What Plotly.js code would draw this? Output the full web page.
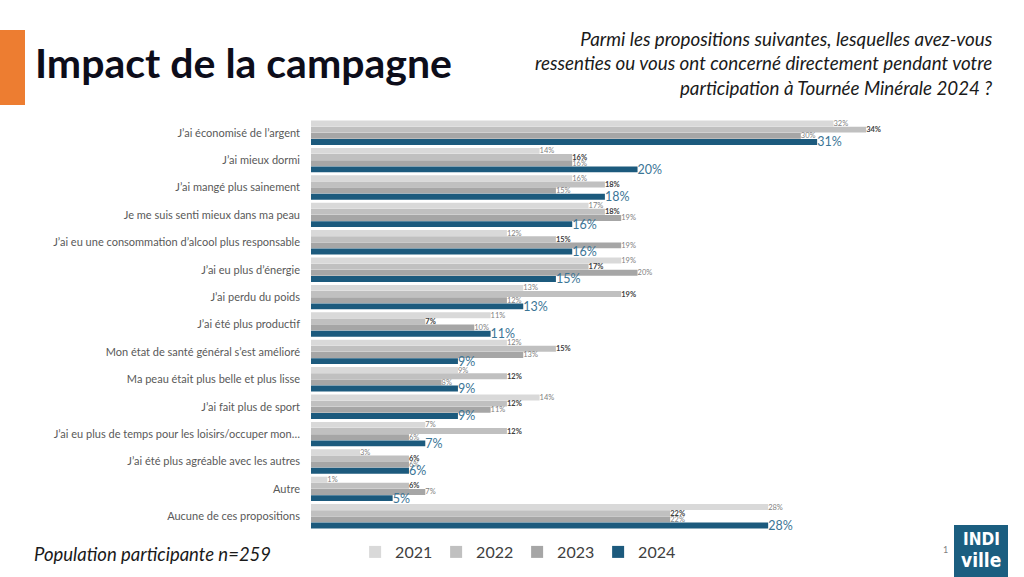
<!DOCTYPE html>
<html><head><meta charset="utf-8">
<script src="https://cdn.plot.ly/plotly-3.0.1.min.js"></script>
<style>html,body{margin:0;padding:0;background:#fff;}#chart{width:1024px;height:577px;}</style>
</head><body><div id="chart"></div>
<script>
const categories = [
  "J’ai économisé de l’argent",
  "J’ai mieux dormi",
  "J’ai mangé plus sainement",
  "Je me suis senti mieux dans ma peau",
  "J’ai eu une consommation d’alcool plus responsable",
  "J’ai eu plus d’énergie",
  "J’ai perdu du poids",
  "J’ai été plus productif",
  "Mon état de santé général s’est amélioré",
  "Ma peau était plus belle et plus lisse",
  "J’ai fait plus de sport",
  "J’ai eu plus de temps pour les loisirs/occuper mon…",
  "J’ai été plus agréable avec les autres",
  "Autre",
  "Aucune de ces propositions"
];
const years = ["2021", "2022", "2023", "2024"];
const v2021 = [32, 14, 16, 17, 12, 19, 13, 11, 12, 9, 14, 7, 3, 1, 28];
const v2022 = [34, 16, 18, 18, 15, 17, 19, 7, 15, 12, 12, 12, 6, 6, 22];
const v2023 = [30, 16, 15, 19, 19, 20, 12, 10, 13, 8, 11, 6, 6, 7, 22];
const v2024 = [31, 20, 18, 16, 16, 15, 13, 11, 9, 9, 9, 7, 6, 5, 28];

const L = 311, R = 920, T = 119, B = 530;
const W = R - L, H = B - T;
const px = x => (x - L) / W;
const py = y => 1 - (y - T) / H;

const colors = ["#d9d9d9", "#c0c0c0", "#a6a6a6", "#1c5a7d"];
const series = [v2021, v2022, v2023, v2024];
const labelFonts = [
  {size: 7.5, color: "#7f7f7f", family: "Lato, sans-serif"},
  {size: 7.5, color: "#404040", family: "Lato, sans-serif", weight: 700},
  {size: 7.5, color: "#7f7f7f", family: "Lato, sans-serif"},
  {size: 12.5, color: "#3b7596", family: "Lato, sans-serif"}
];

const traces = years.map((yr, i) => ({
  type: "bar", orientation: "h", name: yr,
  y: categories, x: series[i],
  marker: {color: colors[i]},
  text: series[i].map(v => v + "%"),
  textposition: "outside",
  constraintext: "none",
  textfont: labelFonts[i],
  cliponaxis: false,
  hoverinfo: "none"
}));

const layout = {
  width: 1024, height: 577,
  margin: {l: L, r: 1024 - R, t: T, b: 577 - B, pad: 0},
  paper_bgcolor: "#fff", plot_bgcolor: "#fff",
  barmode: "group", bargap: 0.1, bargroupgap: 0.04,
  showlegend: true,
  legend: {
    orientation: "h", xref: "container", yref: "container",
    x: 0.505, xanchor: "center", y: 1 - 552/577, yanchor: "middle",
    font: {family: "Lato, sans-serif", size: 16, color: "#404040"},
    traceorder: "normal", itemwidth: 30, entrywidth: 36, entrywidthmode: "pixels"
  },
  xaxis: {range: [0, 37.3], showgrid: false, zeroline: false, showticklabels: false, showline: false, fixedrange: true},
  yaxis: {autorange: "reversed", showgrid: false, zeroline: false, showline: false, ticks: "",
          ticklen: 0, ticklabelstandoff: 10,
          tickfont: {family: "Lato, sans-serif", size: 11, color: "#595959"}},
  shapes: [
    {type: "rect", xref: "paper", yref: "paper", x0: px(0), x1: px(25), y0: py(105), y1: py(30),
     fillcolor: "#ed7d31", line: {width: 0}},
    {type: "rect", xref: "paper", yref: "paper", x0: px(954), x1: px(1008), y0: py(577), y1: py(525),
     fillcolor: "#1b5e80", line: {width: 0}}
  ],
  annotations: [
    {xref: "paper", yref: "paper", x: px(33), y: py(62), xanchor: "left", yanchor: "middle",
     text: "<b>Impact de la campagne</b>", showarrow: false,
     font: {family: "Lato, sans-serif", size: 41, color: "#0d0d1a"}},
    {xref: "paper", yref: "paper", x: px(995), y: py(63), xanchor: "right", yanchor: "middle", align: "right",
     text: "<i>Parmi les propositions suivantes, lesquelles avez-vous<br>ressenties ou vous ont concerné directement pendant votre<br>participation à Tournée Minérale 2024 ?</i>",
     showarrow: false, font: {family: "Lato, sans-serif", size: 18.8, color: "#1a1a1a"}},
    {xref: "paper", yref: "paper", x: px(32), y: py(554), xanchor: "left", yanchor: "middle",
     text: "<i>Population participante n=259</i>", showarrow: false,
     font: {family: "Lato, sans-serif", size: 18.5, color: "#1a1a1a"}},
    {xref: "paper", yref: "paper", x: px(945), y: py(549), xanchor: "center", yanchor: "middle",
     text: "1", showarrow: false, font: {family: "Lato, sans-serif", size: 9, color: "#7f7f7f"}},
    {xref: "paper", yref: "paper", x: px(981), y: py(539), xanchor: "center", yanchor: "middle",
     text: "<b>INDI</b>", showarrow: false, font: {family: "DejaVu Sans Condensed, sans-serif", size: 17, color: "#ffffff"}},
    {xref: "paper", yref: "paper", x: px(981), y: py(560), xanchor: "center", yanchor: "middle",
     text: "<b>ville</b>", showarrow: false, font: {family: "DejaVu Sans Condensed, sans-serif", size: 19, color: "#ffffff"}}
  ]
};

Plotly.newPlot("chart", traces, layout, {staticPlot: true, displayModeBar: false});
</script></body></html>
